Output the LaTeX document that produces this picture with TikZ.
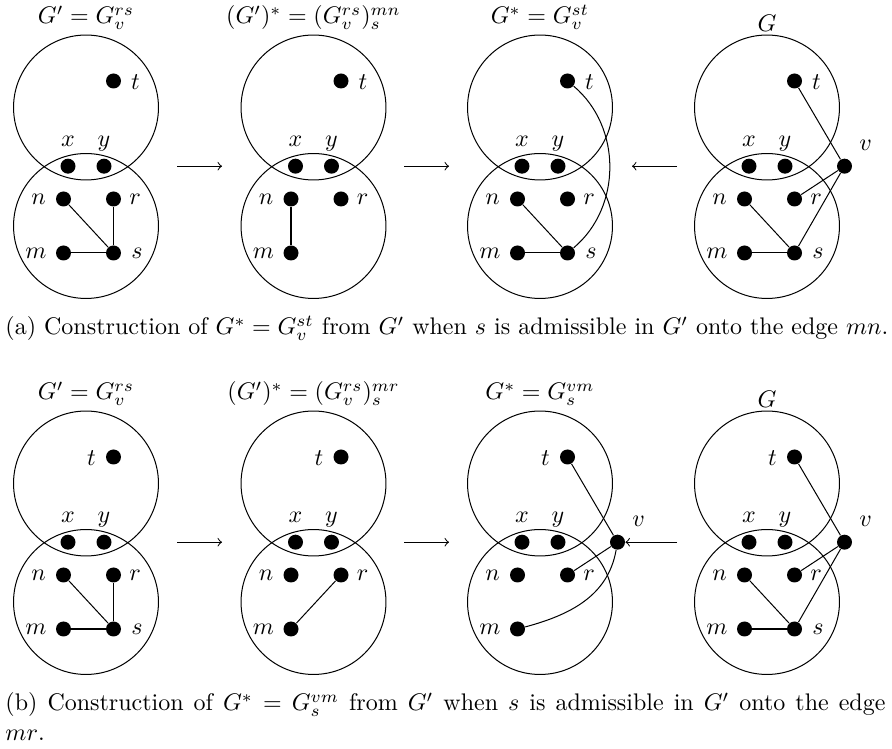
\documentclass[tikz,border=0pt]{standalone}
\usetikzlibrary{calc}
\tikzset{
  ring/.style={draw,circle,inner sep=0pt,minimum size=60.4pt,line width=0.42pt},
  dot/.style={circle,fill=black,inner sep=0pt,minimum size=6.25pt},
  lbl/.style={inner sep=0pt},
  lnk/.style={line width=0.42pt},
  arr/.style={->,line width=0.42pt},
  ttl/.style={anchor=base,inner sep=0pt},
  captxt/.style={anchor=base west,inner sep=0pt}
}
\newcommand\drawpanel[4]{%
 \begin{scope}[shift={(#2,#3)}]
  \node[ring] (#1U) at (0,0) {};
  \node[ring] (#1L) at (0,118.5) {};
  \node[dot] (#1t) at (27.5,-26.5) {};
  \node[dot] (#1x) at (-18,58.7) {};
  \node[dot] (#1y) at (18,58.7) {};
  \node[dot] (#1n) at (-22.5,91.5) {};
  \node[dot] (#1r) at (27.5,91.5) {};
  \node[dot] (#1m) at (-22.5,145.5) {};
  \node[lbl] at (#4,-25.5) {$t$};
  \node[lbl,anchor=base] at (-18,39.3) {$x$};
  \node[lbl,anchor=base] at (18,39.3) {$y$};
  \node[lbl] at (-47.5,91.5) {$n$};
  \node[lbl] at (49,91.5) {$r$};
  \node[lbl] at (-50,145.5) {$m$};
 \end{scope}}
\newcommand\addS[3]{%
 \begin{scope}[shift={(#2,#3)}]
  \node[dot] (#1s) at (27.5,145.5) {};
  \node[lbl] at (51,145.5) {$s$};
 \end{scope}}
\newcommand\addV[3]{%
 \begin{scope}[shift={(#2,#3)}]
  \node[dot] (#1v) at (77.5,58.7) {};
  \node[lbl] at (98.5,38) {$v$};
 \end{scope}}
\begin{document}
\begin{tikzpicture}[x=0.4167pt,y=-0.4167pt]
\useasboundingbox (0,0) rectangle (892,749);
% ---------- row (a) ----------
\drawpanel{A1}{86}{107.5}{49.5}
\addS{A1}{86}{107.5}
\drawpanel{A2}{313.5}{107.5}{49.5}
\drawpanel{A3}{540}{107.5}{49.5}
\addS{A3}{540}{107.5}
\drawpanel{A4}{767}{107.5}{49.5}
\addS{A4}{767}{107.5}
\addV{A4}{767}{107.5}
\node[ttl] (TA1) at (86,24) {$G'=G_v^{rs}$};
\node[ttl] (TA2) at (313.5,24) {$(G')^*=(G_v^{rs})_s^{mn}$};
\node[ttl] (TA3) at (540,24) {$G^*=G_v^{st}$};
\node[ttl] (TA4) at (767,31.7) {$G$};
\coordinate (a1s) at (177,166.2); \coordinate (a1e) at (222,166.2);
\coordinate (a2s) at (404,166.2); \coordinate (a2e) at (449,166.2);
\coordinate (a3s) at (677,166.2); \coordinate (a3e) at (632,166.2);
\draw[arr] (a1s) -- (a1e);
\draw[arr] (a2s) -- (a2e);
\draw[arr] (a3s) -- (a3e);
\draw[lnk] (A1n) -- (A1s); \draw[lnk] (A1r) -- (A1s); \draw[lnk] (A1m) -- (A1s);
\draw[lnk] (A2n) -- (A2m);
\draw[lnk] (A3n) -- (A3s); \draw[lnk] (A3m) -- (A3s);
\draw[lnk] (A3t) to[bend left=50] (A3s);
\draw[lnk] (A4t) -- (A4v); \draw[lnk] (A4r) -- (A4v); \draw[lnk] (A4s) -- (A4v);
\draw[lnk] (A4n) -- (A4s); \draw[lnk] (A4m) -- (A4s);
\node[captxt] (CA) at (5,335) {(a) Construction of $G^*=G_v^{st}$ from $G'$ when $s$ is admissible in $G'$ onto the edge $mn$.};
% ---------- row (b) ----------
\drawpanel{B1}{86}{483.5}{5.5}
\addS{B1}{86}{483.5}
\drawpanel{B2}{313.5}{483.5}{5.5}
\drawpanel{B3}{540}{483.5}{5.5}
\addV{B3}{540}{483.5}
\drawpanel{B4}{767}{483.5}{5.5}
\addS{B4}{767}{483.5}
\addV{B4}{767}{483.5}
\node[ttl] (TB1) at (86,400) {$G'=G_v^{rs}$};
\node[ttl] (TB2) at (313.5,400) {$(G')^*=(G_v^{rs})_s^{mr}$};
\node[ttl] (TB3) at (540,400) {$G^*=G_s^{vm}$};
\node[ttl] (TB4) at (767,407.7) {$G$};
\coordinate (b1s) at (177,542.2); \coordinate (b1e) at (222,542.2);
\coordinate (b2s) at (404,542.2); \coordinate (b2e) at (449,542.2);
\coordinate (b3s) at (677,542.2);
\draw[arr] (b1s) -- (b1e);
\draw[arr] (b2s) -- (b2e);
\draw[arr] (b3s) -- (B3v);
\draw[lnk] (B1n) -- (B1s); \draw[lnk] (B1r) -- (B1s); \draw[lnk] (B1m) -- (B1s);
\draw[lnk] (B2m) -- (B2r);
\draw[lnk] (B3t) -- (B3v); \draw[lnk] (B3r) -- (B3v);
\draw[lnk] (B3v) to[out=-100,in=15] (B3m);
\draw[lnk] (B4t) -- (B4v); \draw[lnk] (B4r) -- (B4v); \draw[lnk] (B4s) -- (B4v);
\draw[lnk] (B4n) -- (B4s); \draw[lnk] (B4m) -- (B4s);
\node[captxt] (CB1) at (5,711) {\hbox to 366.7pt{(b) Construction of $G^*=G_s^{vm}$ from $G'$ when $s$ is admissible in $G'$ onto the edge}};
\node[captxt] (CB2) at (5,740) {$mr$.};
\end{tikzpicture}
\end{document}
